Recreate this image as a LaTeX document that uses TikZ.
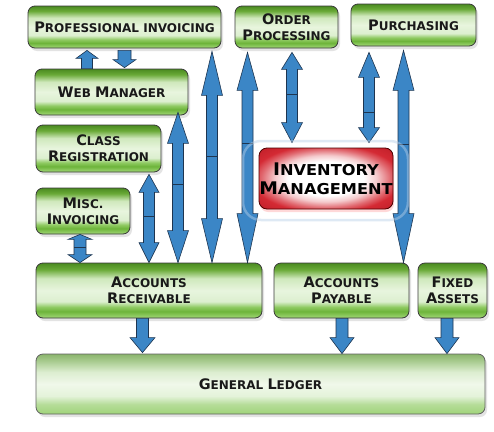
\documentclass[tikz,border=0pt]{standalone}
\usepackage{fontspec}
\setmainfont{DejaVu Sans}
\newfontfamily\invfont{DejaVu Sans}[FakeStretch=1.08]
\usetikzlibrary{calc,shadows}

\definecolor{gA}{HTML}{4A8A20}
\definecolor{gB}{HTML}{6AAA38}
\definecolor{gC}{HTML}{CFE8BC}
\definecolor{gD}{HTML}{E8F5DE}
\definecolor{gE}{HTML}{DCEFCF}
\definecolor{gF}{HTML}{8FCA62}
\definecolor{gG}{HTML}{6DB43A}
\definecolor{gH}{HTML}{A2D878}
\definecolor{lA}{HTML}{8AB46C}
\definecolor{lB}{HTML}{A9CC90}
\definecolor{lC}{HTML}{DCEDD0}
\definecolor{lD}{HTML}{F0F8EA}
\definecolor{lE}{HTML}{E4F3DA}
\definecolor{lF}{HTML}{B5DC98}
\definecolor{lG}{HTML}{A0D47A}
\definecolor{rA}{HTML}{D42A34}
\definecolor{rB}{HTML}{BE1E28}
\definecolor{ablue}{HTML}{3B86C6}
\definecolor{aline}{HTML}{1E3550}
\definecolor{boxline}{HTML}{3A3A3A}
\definecolor{glow}{HTML}{B8D0E8}

\pgfdeclareverticalshading{greenbar}{100bp}{%
 color(0bp)=(gH); color(25bp)=(gH); color(31bp)=(gG); color(35bp)=(gF);
 color(40bp)=(gE); color(50bp)=(gD); color(61bp)=(gC); color(69bp)=(gB);
 color(75bp)=(gA); color(100bp)=(gA)}
\pgfdeclareverticalshading{ledgerbar}{100bp}{%
 color(0bp)=(lG); color(25bp)=(lG); color(33bp)=(lF); color(40bp)=(lE);
 color(50bp)=(lD); color(60bp)=(lC); color(69bp)=(lB);
 color(75bp)=(lA); color(100bp)=(lA)}
\pgfdeclareradialshading{redglow}{\pgfpoint{0bp}{0bp}}{%
 color(0bp)=(white); color(14bp)=(white); color(19bp)=(rA!25!white);
 color(24bp)=(rA!70!white); color(28bp)=(rA); color(36bp)=(rB); color(50bp)=(rB)}

\newcommand\Bg[1]{{\fontsize{14.5}{16}\selectfont #1}}
\newcommand\Bi[1]{{\fontsize{17.4}{19}\selectfont #1}}

% double block arrow: x, top anchor, bottom anchor, gapTop, gapBot, headTop, headBot, shaft half, head half
\newcommand\dblarrow[9]{%
 \path[arrowfill] let \p1=(#2), \p2=(#3) in
  (#1pt,{\y1-(#4pt)})
  -- ({#1pt+#9pt},{\y1-(#4pt)-(#6pt)}) -- ({#1pt+#8pt},{\y1-(#4pt)-(#6pt)})
  -- ({#1pt+#8pt},{\y2+(#5pt)+(#7pt)}) -- ({#1pt+#9pt},{\y2+(#5pt)+(#7pt)})
  -- (#1pt,{\y2+(#5pt)})
  -- ({#1pt-#9pt},{\y2+(#5pt)+(#7pt)}) -- ({#1pt-#8pt},{\y2+(#5pt)+(#7pt)})
  -- ({#1pt-#8pt},{\y1-(#4pt)-(#6pt)}) -- ({#1pt-#9pt},{\y1-(#4pt)-(#6pt)})
  -- cycle;}
% single block arrow: x, from anchor, to anchor, gapFrom, gapTo, head, shaft half, head half
\newcommand\sarrow[8]{%
 \path[arrowfill] let \p1=(#2), \p2=(#3), \n1={(\y2>\y1)?1:-1} in
  ({#1pt-#7pt},{\y1+\n1*(#4pt)}) -- ({#1pt+#7pt},{\y1+\n1*(#4pt)})
  -- ({#1pt+#7pt},{\y2-\n1*(#5pt+#6pt)}) -- ({#1pt+#8pt},{\y2-\n1*(#5pt+#6pt)})
  -- (#1pt,{\y2-\n1*(#5pt)})
  -- ({#1pt-#8pt},{\y2-\n1*(#5pt+#6pt)}) -- ({#1pt-#7pt},{\y2-\n1*(#5pt+#6pt)})
  -- cycle;}
\newcommand\joint[3]{\draw[jointsty] ({#1pt-#2pt},-#3pt) -- ({#1pt+#2pt},-#3pt);}

\begin{document}
\begin{tikzpicture}[x=1pt,y=-1pt,
  box/.style={rounded corners=7pt, draw=boxline, line width=0.8pt, shading=greenbar,
    drop shadow={opacity=0.22, shadow xshift=2pt, shadow yshift=-3pt},
    align=center, inner sep=0pt, text=black!90,
    font=\bfseries\fontsize{12}{16}\selectfont},
  ledger/.style={box, shading=ledgerbar, draw=boxline!80},
  invbox/.style={rounded corners=8pt, draw=black!70!red, line width=0.8pt, shading=redglow,
    drop shadow={opacity=0.25, fill=red!60, shadow xshift=1pt, shadow yshift=-3pt},
    align=center, inner sep=0pt, text=black,
    font=\invfont\bfseries\fontsize{15}{19}\selectfont},
  arrowfill/.style={fill=ablue, draw=aline, line width=0.6pt, line join=miter},
  jointsty/.style={draw=aline, line width=0.8pt},
  glowsty/.style={draw=glow, line width=2.5pt, opacity=0.45, rounded corners=18pt}]
\useasboundingbox (0,0) rectangle (494,431);
\fill[white] (0,0) rectangle (494,431);

\node[box, minimum width=193pt, minimum height=42pt] (prof) at (124.5,27) {\Bg{P}ROFESSIONAL INVOICING};
\node[box, minimum width=103pt, minimum height=42pt] (order) at (286.5,27) {\Bg{O}RDER\\\Bg{P}ROCESSING};
\node[box, minimum width=125pt, minimum height=42pt] (purch) at (413.5,25) {\Bg{P}URCHASING};
\node[box, minimum width=153pt, minimum height=46pt] (web) at (111.5,92) {\Bg{W}EB \Bg{M}ANAGER};
\node[box, minimum width=125pt, minimum height=47pt] (class) at (98.5,148.5) {\Bg{C}LASS\\\Bg{R}EGISTRATION};
\node[box, minimum width=94pt, minimum height=46pt] (misc) at (83,211) {\Bg{M}ISC.\\\Bg{I}NVOICING};
\node[invbox, minimum width=134pt, minimum height=61pt] (inv) at (326,178.5) {\Bi{I}NVENTORY\\\Bi{M}ANAGEMENT};
\node[box, minimum width=226pt, minimum height=55pt] (ar) at (149,290.5) {\Bg{A}CCOUNTS\\\Bg{R}ECEIVABLE};
\node[box, minimum width=135pt, minimum height=55pt] (ap) at (341.5,290.5) {\Bg{A}CCOUNTS\\\Bg{P}AYABLE};
\node[box, minimum width=69pt, minimum height=55pt] (fa) at (452.5,290.5) {\Bg{F}IXED\\\Bg{A}SSETS};
\node[ledger, minimum width=449pt, minimum height=60pt] (gl) at (260.5,384) {\Bg{G}ENERAL \Bg{L}EDGER};

\dblarrow{212}{prof.south}{ar.north}{3}{0}{44}{44}{5.5}{10.5}
\dblarrow{178}{web.south}{ar.north}{-3}{0}{31}{32}{5.5}{10.5}
\dblarrow{149}{class.south}{ar.north}{2}{0}{18}{20}{5.5}{10}
\dblarrow{80}{misc.south}{ar.north}{0}{0}{5}{8}{6}{12}
\dblarrow{247.5}{order.south}{ar.north}{4}{0}{38}{49}{5.5}{10.5}
\dblarrow{292}{order.south}{inv.north}{4}{5}{17}{20}{5.5}{10.5}
\dblarrow{369}{purch.south}{inv.north}{6}{5}{25}{15}{5.5}{10.5}
\dblarrow{403.5}{purch.south}{ap.north}{4}{0}{40}{49}{5.5}{10.5}

\sarrow{87}{web.north}{prof.south}{0}{2}{8}{5.5}{11}
\sarrow{124.5}{prof.south}{web.north}{2}{1}{8}{6.5}{11.5}
\sarrow{142.5}{ar.south}{gl.north}{0}{1}{15}{6}{12.5}
\sarrow{342}{ap.south}{gl.north}{0}{0}{16}{6}{12}
\sarrow{447}{fa.south}{gl.north}{0}{0}{16}{6}{12}

\joint{212}{5.5}{156}
\joint{178}{5.5}{184}
\joint{149}{5.5}{216}
\joint{80}{6}{247}
\joint{247.5}{5.5}{143}
\joint{292}{5.5}{94}
\joint{369}{5.5}{112}
\joint{403.5}{5.5}{144}

\draw[glowsty] (243,141) rectangle (408,220);
\end{tikzpicture}
\end{document}
